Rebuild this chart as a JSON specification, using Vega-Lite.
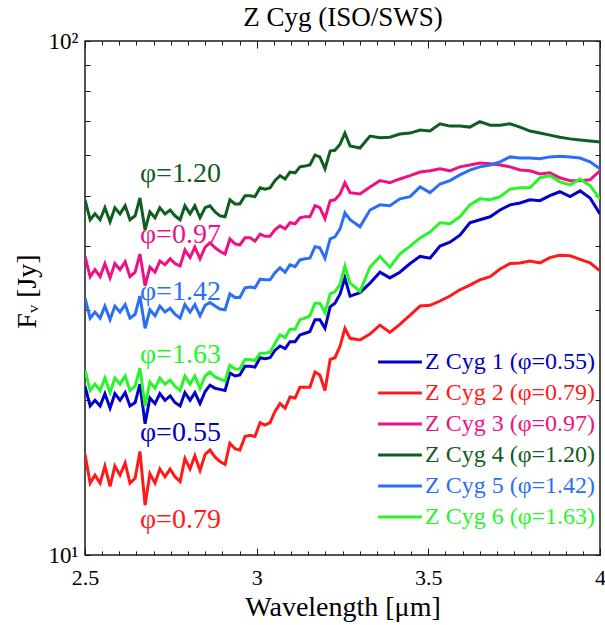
{
  "$schema": "https://vega.github.io/schema/vega-lite/v6.json",
  "width": 515,
  "height": 514,
  "autosize": {"type": "none"},
  "padding": {"left": 85, "top": 41, "right": 5, "bottom": 70},
  "background": "white",
  "config": {
    "font": "Liberation Serif, Times New Roman, Times, DejaVu Serif, serif",
    "view": {"stroke": "#1a1a1a", "strokeWidth": 1.5},
    "axis": {"domain": false, "grid": false, "tickColor": "#1a1a1a", "tickWidth": 1, "labelFont": "Liberation Serif, Times New Roman, Times, DejaVu Serif, serif", "titleFont": "Liberation Serif, Times New Roman, Times, DejaVu Serif, serif", "labelColor": "black", "titleColor": "black", "titleFontWeight": "normal"},
    "legend": {"labelFont": "Liberation Serif, Times New Roman, Times, DejaVu Serif, serif"},
    "text": {"font": "Liberation Serif, Times New Roman, Times, DejaVu Serif, serif"}
  },
  "datasets": {
    "spectra": [
      {"x": 2.5, "s1": 21.3, "s2": 15.7, "s3": 38.1, "s4": 49.1, "s5": 31.6, "s6": 22.9},
      {"x": 2.515, "s1": 19.5, "s2": 13.8, "s3": 34.8, "s4": 44.9, "s5": 28.9, "s6": 20.9},
      {"x": 2.529, "s1": 20.0, "s2": 14.3, "s3": 35.9, "s4": 46.1, "s5": 29.7, "s6": 21.5},
      {"x": 2.544, "s1": 19.5, "s2": 13.8, "s3": 34.8, "s4": 44.9, "s5": 28.9, "s6": 20.9},
      {"x": 2.558, "s1": 20.6, "s2": 14.9, "s3": 36.9, "s4": 47.4, "s5": 30.5, "s6": 22.1},
      {"x": 2.573, "s1": 19.3, "s2": 13.6, "s3": 34.6, "s4": 44.5, "s5": 28.7, "s6": 20.7},
      {"x": 2.587, "s1": 20.6, "s2": 14.9, "s3": 36.9, "s4": 47.4, "s5": 30.5, "s6": 22.1},
      {"x": 2.602, "s1": 20.0, "s2": 14.3, "s3": 35.9, "s4": 46.1, "s5": 29.7, "s6": 21.5},
      {"x": 2.617, "s1": 20.7, "s2": 15.1, "s3": 37.2, "s4": 47.8, "s5": 30.7, "s6": 22.3},
      {"x": 2.631, "s1": 19.5, "s2": 13.8, "s3": 34.8, "s4": 44.9, "s5": 28.9, "s6": 20.9},
      {"x": 2.646, "s1": 19.8, "s2": 14.1, "s3": 35.5, "s4": 45.7, "s5": 29.4, "s6": 21.3},
      {"x": 2.66, "s1": 21.5, "s2": 15.9, "s3": 38.5, "s4": 49.5, "s5": 31.9, "s6": 23.1},
      {"x": 2.675, "s1": 18.0, "s2": 12.5, "s3": 33.4, "s4": 42.9, "s5": 27.6, "s6": 19.5},
      {"x": 2.689, "s1": 20.2, "s2": 14.4, "s3": 36.3, "s4": 46.5, "s5": 30.0, "s6": 21.7},
      {"x": 2.704, "s1": 19.7, "s2": 13.8, "s3": 35.5, "s4": 45.3, "s5": 29.2, "s6": 21.1},
      {"x": 2.718, "s1": 20.6, "s2": 14.7, "s3": 37.3, "s4": 47.4, "s5": 30.5, "s6": 22.1},
      {"x": 2.733, "s1": 20.0, "s2": 14.2, "s3": 36.7, "s4": 46.1, "s5": 29.7, "s6": 21.5},
      {"x": 2.748, "s1": 20.4, "s2": 14.7, "s3": 37.7, "s4": 46.9, "s5": 30.2, "s6": 21.9},
      {"x": 2.762, "s1": 19.8, "s2": 14.2, "s3": 36.9, "s4": 45.7, "s5": 29.4, "s6": 21.3},
      {"x": 2.777, "s1": 19.5, "s2": 13.9, "s3": 36.5, "s4": 44.9, "s5": 28.9, "s6": 20.9},
      {"x": 2.791, "s1": 20.7, "s2": 15.4, "s3": 39.2, "s4": 47.8, "s5": 30.7, "s6": 22.3},
      {"x": 2.806, "s1": 20.0, "s2": 14.7, "s3": 37.9, "s4": 46.1, "s5": 29.7, "s6": 21.5},
      {"x": 2.82, "s1": 20.7, "s2": 15.6, "s3": 39.7, "s4": 47.8, "s5": 30.7, "s6": 22.3},
      {"x": 2.835, "s1": 19.7, "s2": 14.6, "s3": 37.7, "s4": 45.3, "s5": 29.2, "s6": 21.1},
      {"x": 2.85, "s1": 20.8, "s2": 15.7, "s3": 39.7, "s4": 47.4, "s5": 30.6, "s6": 22.3},
      {"x": 2.864, "s1": 21.4, "s2": 16.0, "s3": 40.5, "s4": 47.8, "s5": 31.0, "s6": 22.7},
      {"x": 2.879, "s1": 21.1, "s2": 15.5, "s3": 39.6, "s4": 46.5, "s5": 30.5, "s6": 22.2},
      {"x": 2.893, "s1": 21.0, "s2": 15.2, "s3": 39.0, "s4": 45.7, "s5": 30.1, "s6": 22.0},
      {"x": 2.908, "s1": 20.9, "s2": 15.0, "s3": 38.5, "s4": 45.5, "s5": 30.0, "s6": 21.8},
      {"x": 2.922, "s1": 22.6, "s2": 16.5, "s3": 41.2, "s4": 49.1, "s5": 32.2, "s6": 23.4},
      {"x": 2.937, "s1": 22.3, "s2": 16.1, "s3": 40.3, "s4": 48.2, "s5": 31.7, "s6": 23.0},
      {"x": 2.951, "s1": 22.4, "s2": 16.0, "s3": 40.1, "s4": 48.2, "s5": 31.7, "s6": 23.0},
      {"x": 2.966, "s1": 23.3, "s2": 17.0, "s3": 41.4, "s4": 50.0, "s5": 33.1, "s6": 24.0},
      {"x": 2.981, "s1": 23.3, "s2": 17.1, "s3": 41.4, "s4": 50.0, "s5": 33.2, "s6": 24.0},
      {"x": 2.995, "s1": 23.2, "s2": 17.0, "s3": 40.8, "s4": 49.8, "s5": 33.1, "s6": 23.9},
      {"x": 3.01, "s1": 24.2, "s2": 18.1, "s3": 42.1, "s4": 51.8, "s5": 34.4, "s6": 24.7},
      {"x": 3.024, "s1": 24.1, "s2": 17.9, "s3": 41.7, "s4": 51.5, "s5": 34.3, "s6": 24.7},
      {"x": 3.039, "s1": 24.2, "s2": 18.1, "s3": 41.7, "s4": 51.8, "s5": 34.3, "s6": 24.8},
      {"x": 3.053, "s1": 25.0, "s2": 19.0, "s3": 42.9, "s4": 53.5, "s5": 35.4, "s6": 25.8},
      {"x": 3.068, "s1": 25.5, "s2": 19.7, "s3": 43.7, "s4": 54.7, "s5": 36.2, "s6": 26.8},
      {"x": 3.083, "s1": 25.2, "s2": 19.3, "s3": 43.1, "s4": 53.9, "s5": 35.5, "s6": 26.5},
      {"x": 3.097, "s1": 26.0, "s2": 20.3, "s3": 44.3, "s4": 55.6, "s5": 36.7, "s6": 27.5},
      {"x": 3.112, "s1": 26.0, "s2": 20.2, "s3": 44.1, "s4": 55.4, "s5": 36.4, "s6": 27.5},
      {"x": 3.126, "s1": 26.8, "s2": 21.2, "s3": 45.3, "s4": 56.9, "s5": 37.5, "s6": 28.7},
      {"x": 3.141, "s1": 27.0, "s2": 21.2, "s3": 45.5, "s4": 57.1, "s5": 37.7, "s6": 28.9},
      {"x": 3.155, "s1": 27.2, "s2": 21.2, "s3": 45.5, "s4": 57.4, "s5": 37.8, "s6": 29.2},
      {"x": 3.17, "s1": 28.7, "s2": 22.7, "s3": 47.8, "s4": 60.0, "s5": 39.8, "s6": 30.9},
      {"x": 3.184, "s1": 28.7, "s2": 22.4, "s3": 47.4, "s4": 59.5, "s5": 39.6, "s6": 30.9},
      {"x": 3.199, "s1": 27.6, "s2": 20.9, "s3": 45.1, "s4": 56.4, "s5": 37.8, "s6": 29.6},
      {"x": 3.214, "s1": 30.4, "s2": 24.0, "s3": 48.9, "s4": 61.1, "s5": 41.2, "s6": 32.2},
      {"x": 3.228, "s1": 30.9, "s2": 24.2, "s3": 49.1, "s4": 61.3, "s5": 41.6, "s6": 32.5},
      {"x": 3.243, "s1": 32.2, "s2": 25.5, "s3": 50.4, "s4": 63.0, "s5": 43.1, "s6": 33.6},
      {"x": 3.257, "s1": 34.6, "s2": 27.6, "s3": 53.0, "s4": 66.2, "s5": 46.3, "s6": 36.5},
      {"x": 3.272, "s1": 31.9, "s2": 26.4, "s3": 50.7, "s4": 62.5, "s5": 44.9, "s6": 33.8},
      {"x": 3.301, "s1": 32.4, "s2": 26.2, "s3": 50.4, "s4": 61.9, "s5": 43.5, "s6": 32.6},
      {"x": 3.33, "s1": 33.8, "s2": 26.9, "s3": 52.0, "s4": 65.3, "s5": 46.9, "s6": 36.3},
      {"x": 3.359, "s1": 35.5, "s2": 28.0, "s3": 53.5, "s4": 64.8, "s5": 48.0, "s6": 38.1},
      {"x": 3.388, "s1": 34.6, "s2": 27.1, "s3": 53.0, "s4": 65.0, "s5": 47.8, "s6": 36.3},
      {"x": 3.417, "s1": 35.5, "s2": 28.1, "s3": 53.9, "s4": 65.9, "s5": 49.3, "s6": 38.5},
      {"x": 3.447, "s1": 36.9, "s2": 29.3, "s3": 54.7, "s4": 66.2, "s5": 49.8, "s6": 39.9},
      {"x": 3.476, "s1": 38.1, "s2": 30.5, "s3": 55.6, "s4": 67.1, "s5": 52.0, "s6": 41.4},
      {"x": 3.505, "s1": 37.8, "s2": 30.6, "s3": 55.9, "s4": 66.8, "s5": 50.7, "s6": 42.5},
      {"x": 3.534, "s1": 39.9, "s2": 31.2, "s3": 56.4, "s4": 69.0, "s5": 52.7, "s6": 44.3},
      {"x": 3.563, "s1": 40.6, "s2": 31.9, "s3": 55.9, "s4": 68.3, "s5": 53.5, "s6": 44.1},
      {"x": 3.592, "s1": 41.9, "s2": 32.8, "s3": 56.9, "s4": 68.3, "s5": 54.9, "s6": 45.5},
      {"x": 3.621, "s1": 44.3, "s2": 33.5, "s3": 57.4, "s4": 68.0, "s5": 56.1, "s6": 48.0},
      {"x": 3.65, "s1": 44.9, "s2": 34.3, "s3": 57.9, "s4": 69.7, "s5": 56.9, "s6": 49.3},
      {"x": 3.68, "s1": 45.5, "s2": 34.8, "s3": 57.7, "s4": 68.6, "s5": 57.4, "s6": 49.1},
      {"x": 3.709, "s1": 46.9, "s2": 36.0, "s3": 57.4, "s4": 68.6, "s5": 58.2, "s6": 49.8},
      {"x": 3.738, "s1": 48.0, "s2": 36.9, "s3": 56.9, "s4": 69.0, "s5": 59.5, "s6": 51.5},
      {"x": 3.767, "s1": 48.4, "s2": 37.0, "s3": 56.1, "s4": 68.0, "s5": 59.2, "s6": 51.8},
      {"x": 3.796, "s1": 49.1, "s2": 37.3, "s3": 55.9, "s4": 66.8, "s5": 59.2, "s6": 51.8},
      {"x": 3.825, "s1": 48.9, "s2": 37.0, "s3": 55.1, "s4": 66.2, "s5": 59.0, "s6": 54.2},
      {"x": 3.854, "s1": 50.0, "s2": 37.9, "s3": 55.4, "s4": 65.6, "s5": 59.5, "s6": 54.7},
      {"x": 3.883, "s1": 50.9, "s2": 38.3, "s3": 54.2, "s4": 65.0, "s5": 59.7, "s6": 53.2},
      {"x": 3.913, "s1": 49.8, "s2": 38.2, "s3": 53.5, "s4": 64.5, "s5": 59.5, "s6": 52.5},
      {"x": 3.942, "s1": 51.1, "s2": 37.6, "s3": 53.5, "s4": 64.2, "s5": 59.2, "s6": 53.9},
      {"x": 3.971, "s1": 49.5, "s2": 37.0, "s3": 53.7, "s4": 63.9, "s5": 58.2, "s6": 52.3},
      {"x": 4.0, "s1": 46.1, "s2": 35.7, "s3": 55.9, "s4": 63.6, "s5": 56.4, "s6": 49.3}
    ],
    "phases": [
      {"x": 2.66, "y": 53.2, "label": "φ=1.20", "series": "s4"},
      {"x": 2.66, "y": 40.5, "label": "φ=0.97", "series": "s3"},
      {"x": 2.66, "y": 31.3, "label": "φ=1.42", "series": "s5"},
      {"x": 2.66, "y": 23.6, "label": "φ=1.63", "series": "s6"},
      {"x": 2.66, "y": 16.7, "label": "φ=0.55", "series": "s1"},
      {"x": 2.66, "y": 11.3, "label": "φ=0.79", "series": "s2"}
    ]
  },
  "layer": [
    {
      "data": {"name": "spectra"},
      "transform": [{"fold": ["s1", "s2", "s3", "s4", "s5", "s6"], "as": ["series", "flux"]}],
      "mark": {"type": "line", "strokeWidth": 3, "clip": true},
      "encoding": {
        "x": {
          "field": "x", "type": "quantitative",
          "scale": {"domain": [2.5, 4], "nice": false, "zero": false},
          "axis": {
            "orient": "bottom",
            "values": [2.5, 2.55, 2.6, 2.65, 2.7, 2.75, 2.8, 2.85, 2.9, 2.95, 3.0, 3.05, 3.1, 3.15, 3.2, 3.25, 3.3, 3.35, 3.4, 3.45, 3.5, 3.55, 3.6, 3.65, 3.7, 3.75, 3.8, 3.85, 3.9, 3.95, 4.0],
            "tickSize": {"condition": {"test": "abs(datum.value*2 - round(datum.value*2)) < 0.001", "value": -7}, "value": -4},
            "labelExpr": "abs(datum.value*2 - round(datum.value*2)) < 0.001 ? format(datum.value, '~g') : ''",
            "labelFontSize": 22,
            "labelBaseline": "alphabetic",
            "labelPadding": 36,
            "labelFlush": false,
            "title": "Wavelength [μm]",
            "titleFontSize": 28,
            "titleBaseline": "alphabetic",
            "titleX": 257.5,
            "titleY": 60
          }
        },
        "y": {
          "field": "flux", "type": "quantitative",
          "scale": {"type": "log", "domain": [10, 100], "nice": false},
          "axis": {
            "orient": "left",
            "values": [10, 20, 30, 40, 50, 60, 70, 80, 90, 100],
            "tickSize": -5,
            "labelExpr": "datum.value == 10 ? '10¹' : (datum.value == 100 ? '10²' : '')",
            "labelFontSize": 23,
            "labelPadding": 12,
            "labelFlush": false,
            "title": "Fᵥ [Jy]",
            "titleFontSize": 28,
            "titleX": -58,
            "titleY": 250,
            "titleAngle": -90,
            "titleAlign": "center",
            "titleBaseline": "middle"
          }
        },
        "color": {
          "field": "series", "type": "nominal",
          "scale": {"domain": ["s1", "s2", "s3", "s4", "s5", "s6"], "range": ["#0000c8", "#ff1a1a", "#ec1285", "#0f5e20", "#2b6ff5", "#28f528"]},
          "legend": {
            "orient": "none",
            "legendX": 296,
            "legendY": 302,
            "title": null,
            "padding": 0,
            "symbolType": "M-1.25,0H1.25",
            "symbolSize": 1225,
            "symbolStrokeWidth": 3,
            "labelFontSize": 24,
            "labelLimit": 400,
            "labelOffset": 6,
            "rowPadding": 0,
            "labelExpr": "datum.value == 's1' ? 'Z Cyg 1 (φ=0.55)' : datum.value == 's2' ? 'Z Cyg 2 (φ=0.79)' : datum.value == 's3' ? 'Z Cyg 3 (φ=0.97)' : datum.value == 's4' ? 'Z Cyg 4 (φ=1.20)' : datum.value == 's5' ? 'Z Cyg 5 (φ=1.42)' : 'Z Cyg 6 (φ=1.63)'",
            "encode": {"labels": {"update": {"fill": {"scale": "color", "field": "value"}}}}
          }
        }
      }
    },
    {
      "data": {"name": "phases"},
      "mark": {"type": "text", "align": "left", "baseline": "alphabetic", "fontSize": 28},
      "encoding": {
        "x": {
          "field": "x", "type": "quantitative",
          "scale": {"domain": [2.5, 4], "nice": false, "zero": false},
          "axis": {
            "orient": "top",
            "values": [2.5, 2.55, 2.6, 2.65, 2.7, 2.75, 2.8, 2.85, 2.9, 2.95, 3.0, 3.05, 3.1, 3.15, 3.2, 3.25, 3.3, 3.35, 3.4, 3.45, 3.5, 3.55, 3.6, 3.65, 3.7, 3.75, 3.8, 3.85, 3.9, 3.95, 4.0],
            "tickSize": {"condition": {"test": "abs(datum.value*2 - round(datum.value*2)) < 0.001", "value": -7}, "value": -4},
            "labels": false,
            "title": "Z Cyg (ISO/SWS)",
            "titleFontSize": 27,
            "titleBaseline": "alphabetic",
            "titleX": 257.5,
            "titleY": -16
          }
        },
        "y": {
          "field": "y", "type": "quantitative",
          "scale": {"type": "log", "domain": [10, 100], "nice": false},
          "axis": {
            "orient": "right",
            "values": [10, 20, 30, 40, 50, 60, 70, 80, 90, 100],
            "tickSize": -5,
            "labels": false,
            "title": null
          }
        },
        "text": {"field": "label", "type": "nominal"},
        "color": {"field": "series", "type": "nominal", "legend": null}
      }
    }
  ],
  "resolve": {"axis": {"x": "independent", "y": "independent"}}
}
